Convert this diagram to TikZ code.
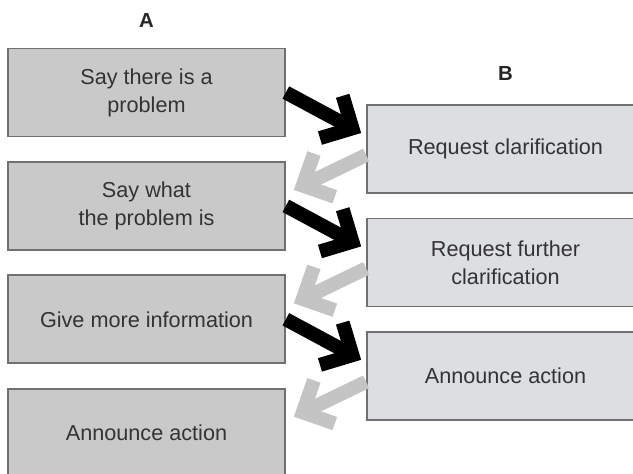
\documentclass[tikz,border=0pt]{standalone}
\usepackage{fontspec}
\setmainfont{Liberation Sans}
\usetikzlibrary{arrows.meta,positioning}
\definecolor{boxa}{HTML}{C9C9C9}
\definecolor{boxb}{HTML}{DCDEE1}
\definecolor{frame}{HTML}{707070}
\definecolor{backgrey}{HTML}{C4C4C4}
\definecolor{ink}{HTML}{333333}

\tikzset{
  turn/.style={draw=frame,line width=1.2pt,minimum width=6.925cm,minimum height=2.2cm,
    align=center,text=ink,font=\fontsize{15.4}{20}\selectfont},
  turnA/.style={turn,fill=boxa},
  turnB/.style={turn,fill=boxb},
  speaker/.style={text=black!85,font=\bfseries\fontsize{14.5}{16}\selectfont},
  fwd/.style={draw=black,line width=0.35cm,-{Straight Barb[length=0.6cm,width=1.2cm]}},
  back/.style={draw=backgrey,line width=0.35cm,-{Straight Barb[length=0.6cm,width=1.2cm]}}
}

\begin{document}
\begin{tikzpicture}[node distance=2.835cm,on grid]
    \useasboundingbox (0,0) rectangle (15.825,11.825);
    \node[turnA] (a1) at (3.6625,9.5125) {Say there is a\\problem};
    \node[turnA] (a2) [below=of a1] {Say what\\the problem is};
    \node[turnA] (a3) [below=of a2] {Give more information};
    \node[turnA] (a4) [below=of a3] {Announce action};
    \node[turnB] (b1) [below right=1.4125cm and 8.975cm of a1] {Request clarification};
    \node[turnB] (b2) [below=of b1] {Request further\\clarification};
    \node[turnB] (b3) [below=of b2] {Announce action};
    \node[speaker] (la) [above=1.8125cm of a1] {A};
    \node[speaker] (lb) [above=1.9cm of b1] {B};
    \path
    % A to B
    (a1.east) edge[fwd] ([shift={(-0.125,0.4)}]b1.west)
    (a2.east) edge[fwd] ([shift={(-0.125,0.4)}]b2.west)
    (a3.east) edge[fwd] ([shift={(-0.125,0.4)}]b3.west)
    % B back to A
    ([yshift=-0.15cm]b1.west) edge[back] ([shift={(0.2,0.4)}]a2.east)
    ([yshift=-0.15cm]b2.west) edge[back] ([shift={(0.2,0.4)}]a3.east)
    ([yshift=-0.15cm]b3.west) edge[back] ([shift={(0.2,0.4)}]a4.east);
  \end{tikzpicture}
\end{document}
